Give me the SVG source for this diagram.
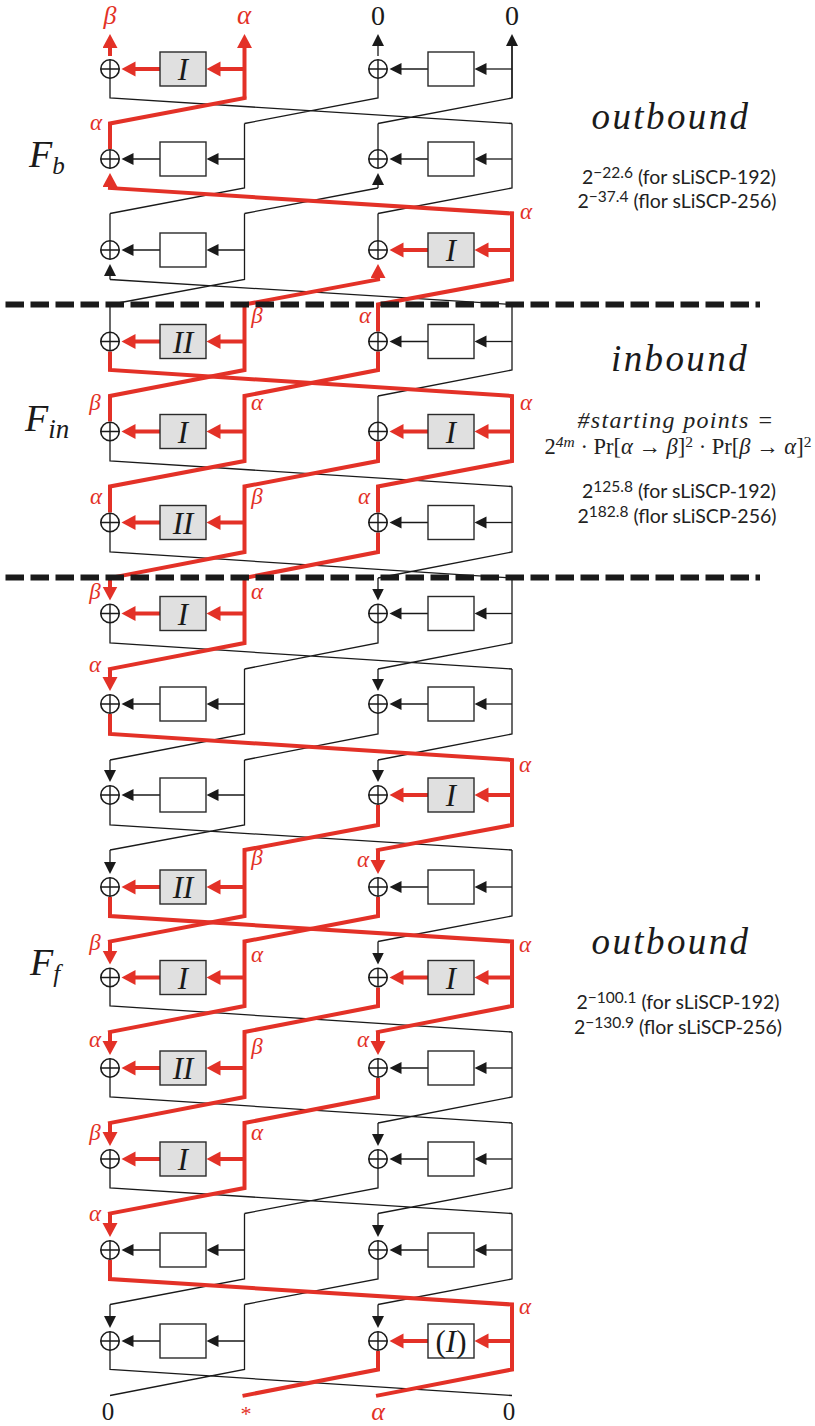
<svg xmlns="http://www.w3.org/2000/svg" width="815" height="1426" viewBox="0 0 815 1426">
<style>
.k{fill:none;stroke:#1a1a1a;stroke-width:1.3}
.r{fill:none;stroke:#e33127;stroke-width:4;stroke-linecap:square}
.rb{fill:none;stroke:#e33127;stroke-width:4}
.ka{marker-end:url(#ah)}
.ra{marker-end:url(#rh)}
.w{fill:#fff;stroke:#2a2a2a;stroke-width:1.4}
.g{fill:#e0e0e0;stroke:#2a2a2a;stroke-width:1.4}
.m{font-family:"Liberation Serif",serif;font-style:italic;fill:#1a1a1a}
.bl{font-size:31px;text-anchor:middle}
.rl{font-family:"Liberation Serif",serif;font-style:italic;fill:#e33127;font-size:23px;text-anchor:middle}
.n{font-family:"Liberation Serif",serif;fill:#1a1a1a;font-size:25px;text-anchor:middle}
.h{font-size:37px;text-anchor:middle;letter-spacing:2.4px}
.t{font-family:Lato,"Noto Sans",sans-serif;fill:#222;font-size:19.5px;text-anchor:middle}
.e{font-family:"Liberation Serif",serif;fill:#222;font-size:22.5px;text-anchor:middle}
</style>
<defs>
<marker id="ah" markerUnits="userSpaceOnUse" markerWidth="14" markerHeight="14" refX="6" refY="6" orient="auto"><path d="M0 0L12 6L0 12z" fill="#1a1a1a"/></marker>
<marker id="rh" markerUnits="userSpaceOnUse" markerWidth="16" markerHeight="16" refX="8" refY="7.5" orient="auto"><path d="M0 0L14 7.5L0 15z" fill="#e33127"/></marker>
<g id="x"><circle r="9.2" fill="#fff" stroke="#1a1a1a" stroke-width="1.6"/><path d="M-9.2 0H9.2M0-9.2V9.2" stroke="#1a1a1a" stroke-width="1.4" fill="none"/></g>
</defs>
<g id="connectors">
<g id="black-wires">
<path class="k" d="M110 69V98L512 123.5M378 69V98L244.5 123.5M512 40V98L378 123.5"/>
<path class="k ka" d="M378 56V40"/><path class="k ka" d="M512 98V40"/>
<path class="k" d="M378 123.5V159M244.5 123.5V188L110 213.5M512 123.5V188L378 213.5M378 188L244.5 213.5"/>
<path class="k ka" d="M378 188V179"/>
<path class="k" d="M110 213.5V250M378 213.5V250M244.5 213.5V279.5L110 304.5M110 279.5L512 304.5"/>
<path class="k ka" d="M110 279.5V270"/>
<path class="k" d="M110 304.5V341.5M512 304.5V370L378 396"/>
<path class="k" d="M378 396V431.5M110 431.5V461L512 486.5"/>
<path class="k" d="M512 486.5V552L378 578M110 522.5V552L512 578"/>
<path class="k" d="M512 578V643L378 669M378 613.5V643L244.5 669M110 613.5V643L512 669"/>
<path class="k ka" d="M378 578V594.5"/>
<path class="k" d="M244.5 669V734L110 760M512 669V734L378 760M378 704V734L244.5 760"/>
<path class="k ka" d="M378 669V685"/>
<path class="k" d="M244.5 760V825L110 850M110 795V825L512 850"/>
<path class="k ka" d="M110 760V776"/><path class="k ka" d="M378 760V776"/>
<path class="k" d="M512 850V916L378 941.5"/>
<path class="k ka" d="M110 850V868"/>
<path class="k" d="M110 977.5V1006L512 1032"/>
<path class="k ka" d="M378 941.5V958.5"/>
<path class="k" d="M512 1032V1097L378 1123M110 1068V1097L512 1123"/>
<path class="k" d="M512 1123V1188L378 1213.5M378 1159V1188L244.5 1213.5M110 1159V1188L512 1213.5"/>
<path class="k ka" d="M378 1123V1140"/>
<path class="k" d="M244.5 1213.5V1279L110 1304.5M512 1213.5V1279L378 1304.5M378 1250V1279L244.5 1304.5"/>
<path class="k ka" d="M378 1213.5V1231"/>
<path class="k" d="M244.5 1304.5V1369.5L110 1395.5M110 1341V1369.5L512 1395.5"/>
<path class="k ka" d="M110 1304.5V1322"/><path class="k ka" d="M378 1304.5V1322"/>
<path class="k ka" d="M428 69H395.5"/><path class="k ka" d="M512 69H480.5"/>
<path class="k ka" d="M160 159H127.5"/><path class="k ka" d="M244.5 159H212.5"/><path class="k ka" d="M428 159H395.5"/><path class="k ka" d="M512 159H480.5"/>
<path class="k ka" d="M160 250H127.5"/><path class="k ka" d="M244.5 250H212.5"/>
<path class="k ka" d="M428 341.5H395.5"/><path class="k ka" d="M512 341.5H480.5"/>
<path class="k ka" d="M428 522.5H395.5"/><path class="k ka" d="M512 522.5H480.5"/>
<path class="k ka" d="M428 613.5H395.5"/><path class="k ka" d="M512 613.5H480.5"/>
<path class="k ka" d="M160 704H127.5"/><path class="k ka" d="M244.5 704H212.5"/><path class="k ka" d="M428 704H395.5"/><path class="k ka" d="M512 704H480.5"/>
<path class="k ka" d="M160 795H127.5"/><path class="k ka" d="M244.5 795H212.5"/>
<path class="k ka" d="M428 887H395.5"/><path class="k ka" d="M512 887H480.5"/>
<path class="k ka" d="M428 1068H395.5"/><path class="k ka" d="M512 1068H480.5"/>
<path class="k ka" d="M428 1159H395.5"/><path class="k ka" d="M512 1159H480.5"/>
<path class="k ka" d="M160 1250H127.5"/><path class="k ka" d="M244.5 1250H212.5"/><path class="k ka" d="M428 1250H395.5"/><path class="k ka" d="M512 1250H480.5"/>
<path class="k ka" d="M160 1341H127.5"/><path class="k ka" d="M244.5 1341H212.5"/>
</g>
<g id="red-wires">
<path class="rb ra" d="M110 56V40"/><path class="rb ra" d="M244.5 98V40"/>
<path class="r" d="M244.5 98L110 123.5V147"/>
<path class="r" d="M512 213.5L110 188"/><path class="rb ra" d="M110 188V179"/>
<path class="r" d="M512 213.5V279.5L378 304.5V329.5"/>
<path class="r" d="M244.5 304.5L378 279.5"/><path class="rb ra" d="M378 279.5V270"/>
<path class="r" d="M244.5 304.5V370L110 396V419.5"/>
<path class="r" d="M110 353.5V370L512 396V461L378 486.5V510.5"/>
<path class="r" d="M378 353.5V370L244.5 396V461L110 486.5V510.5"/>
<path class="r" d="M378 443.5V461L244.5 486.5V552L110 578"/><path class="rb ra" d="M110 578V594.5"/>
<path class="r" d="M378 534.5V552L244.5 578V643L110 669"/><path class="rb ra" d="M110 669V685"/>
<path class="r" d="M110 716V734L512 760V825L378 850"/><path class="rb ra" d="M378 850V868"/>
<path class="r" d="M378 807V825L244.5 850V916L110 941.5"/><path class="rb ra" d="M110 941.5V958.5"/>
<path class="r" d="M110 899V916L512 941.5V1006L378 1032"/><path class="rb ra" d="M378 1032V1049"/>
<path class="r" d="M378 899V916L244.5 941.5V1006L110 1032"/><path class="rb ra" d="M110 1032V1049"/>
<path class="r" d="M378 989.5V1006L244.5 1032V1097L110 1123"/><path class="rb ra" d="M110 1123V1140"/>
<path class="r" d="M378 1080V1097L244.5 1123V1188L110 1213.5"/><path class="rb ra" d="M110 1213.5V1231"/>
<path class="r" d="M110 1262V1279L512 1304.5V1369.5L378 1395.5"/>
<path class="r" d="M378 1353V1369.5L244.5 1395.5"/>
<path class="rb ra" d="M160 69H127.5"/><path class="rb ra" d="M244.5 69H212.5"/>
<path class="rb ra" d="M428 250H395.5"/><path class="rb ra" d="M512 250H480.5"/>
<path class="rb ra" d="M160 341.5H127.5"/><path class="rb ra" d="M244.5 341.5H212.5"/>
<path class="rb ra" d="M160 431.5H127.5"/><path class="rb ra" d="M244.5 431.5H212.5"/><path class="rb ra" d="M428 431.5H395.5"/><path class="rb ra" d="M512 431.5H480.5"/>
<path class="rb ra" d="M160 522.5H127.5"/><path class="rb ra" d="M244.5 522.5H212.5"/>
<path class="rb ra" d="M160 613.5H127.5"/><path class="rb ra" d="M244.5 613.5H212.5"/>
<path class="rb ra" d="M428 795H395.5"/><path class="rb ra" d="M512 795H480.5"/>
<path class="rb ra" d="M160 887H127.5"/><path class="rb ra" d="M244.5 887H212.5"/>
<path class="rb ra" d="M160 977.5H127.5"/><path class="rb ra" d="M244.5 977.5H212.5"/><path class="rb ra" d="M428 977.5H395.5"/><path class="rb ra" d="M512 977.5H480.5"/>
<path class="rb ra" d="M160 1068H127.5"/><path class="rb ra" d="M244.5 1068H212.5"/>
<path class="rb ra" d="M160 1159H127.5"/><path class="rb ra" d="M244.5 1159H212.5"/>
<path class="rb ra" d="M428 1341H395.5"/><path class="rb ra" d="M512 1341H480.5"/>
</g>
<g id="phase-dividers"><path d="M5.5 304.5H760M5.5 577.5H760" fill="none" stroke="#1a1a1a" stroke-width="6" stroke-dasharray="18.5 6.5"/></g>
</g>
<g id="xors">
<g id="xor-1"><use href="#x" x="110" y="69"/><use href="#x" x="378" y="69"/></g>
<g id="xor-2"><use href="#x" x="110" y="159"/><use href="#x" x="378" y="159"/></g>
<g id="xor-3"><use href="#x" x="110" y="250"/><use href="#x" x="378" y="250"/></g>
<g id="xor-4"><use href="#x" x="110" y="341.5"/><use href="#x" x="378" y="341.5"/></g>
<g id="xor-5"><use href="#x" x="110" y="431.5"/><use href="#x" x="378" y="431.5"/></g>
<g id="xor-6"><use href="#x" x="110" y="522.5"/><use href="#x" x="378" y="522.5"/></g>
<g id="xor-7"><use href="#x" x="110" y="613.5"/><use href="#x" x="378" y="613.5"/></g>
<g id="xor-8"><use href="#x" x="110" y="704"/><use href="#x" x="378" y="704"/></g>
<g id="xor-9"><use href="#x" x="110" y="795"/><use href="#x" x="378" y="795"/></g>
<g id="xor-10"><use href="#x" x="110" y="887"/><use href="#x" x="378" y="887"/></g>
<g id="xor-11"><use href="#x" x="110" y="977.5"/><use href="#x" x="378" y="977.5"/></g>
<g id="xor-12"><use href="#x" x="110" y="1068"/><use href="#x" x="378" y="1068"/></g>
<g id="xor-13"><use href="#x" x="110" y="1159"/><use href="#x" x="378" y="1159"/></g>
<g id="xor-14"><use href="#x" x="110" y="1250"/><use href="#x" x="378" y="1250"/></g>
<g id="xor-15"><use href="#x" x="110" y="1341"/><use href="#x" x="378" y="1341"/></g>
</g>
<g id="boxes">
<g id="box-1-l"><rect class="g" x="160" y="52" width="46" height="34"/><text class="m bl" x="183" y="80">I</text></g>
<g id="box-1-r"><rect class="w" x="428" y="52" width="46" height="34"/></g>
<g id="box-2-l"><rect class="w" x="160" y="142" width="46" height="34"/></g>
<g id="box-2-r"><rect class="w" x="428" y="142" width="46" height="34"/></g>
<g id="box-3-l"><rect class="w" x="160" y="233" width="46" height="34"/></g>
<g id="box-3-r"><rect class="g" x="428" y="233" width="46" height="34"/><text class="m bl" x="451" y="261">I</text></g>
<g id="box-4-l"><rect class="g" x="160" y="324.5" width="46" height="34"/><text class="m bl" x="183" y="352.5">II</text></g>
<g id="box-4-r"><rect class="w" x="428" y="324.5" width="46" height="34"/></g>
<g id="box-5-l"><rect class="g" x="160" y="414.5" width="46" height="34"/><text class="m bl" x="183" y="442.5">I</text></g>
<g id="box-5-r"><rect class="g" x="428" y="414.5" width="46" height="34"/><text class="m bl" x="451" y="442.5">I</text></g>
<g id="box-6-l"><rect class="g" x="160" y="505.5" width="46" height="34"/><text class="m bl" x="183" y="533.5">II</text></g>
<g id="box-6-r"><rect class="w" x="428" y="505.5" width="46" height="34"/></g>
<g id="box-7-l"><rect class="g" x="160" y="596.5" width="46" height="34"/><text class="m bl" x="183" y="624.5">I</text></g>
<g id="box-7-r"><rect class="w" x="428" y="596.5" width="46" height="34"/></g>
<g id="box-8-l"><rect class="w" x="160" y="687" width="46" height="34"/></g>
<g id="box-8-r"><rect class="w" x="428" y="687" width="46" height="34"/></g>
<g id="box-9-l"><rect class="w" x="160" y="778" width="46" height="34"/></g>
<g id="box-9-r"><rect class="g" x="428" y="778" width="46" height="34"/><text class="m bl" x="451" y="806">I</text></g>
<g id="box-10-l"><rect class="g" x="160" y="870" width="46" height="34"/><text class="m bl" x="183" y="898">II</text></g>
<g id="box-10-r"><rect class="w" x="428" y="870" width="46" height="34"/></g>
<g id="box-11-l"><rect class="g" x="160" y="960.5" width="46" height="34"/><text class="m bl" x="183" y="988.5">I</text></g>
<g id="box-11-r"><rect class="g" x="428" y="960.5" width="46" height="34"/><text class="m bl" x="451" y="988.5">I</text></g>
<g id="box-12-l"><rect class="g" x="160" y="1051" width="46" height="34"/><text class="m bl" x="183" y="1079">II</text></g>
<g id="box-12-r"><rect class="w" x="428" y="1051" width="46" height="34"/></g>
<g id="box-13-l"><rect class="g" x="160" y="1142" width="46" height="34"/><text class="m bl" x="183" y="1170">I</text></g>
<g id="box-13-r"><rect class="w" x="428" y="1142" width="46" height="34"/></g>
<g id="box-14-l"><rect class="w" x="160" y="1233" width="46" height="34"/></g>
<g id="box-14-r"><rect class="w" x="428" y="1233" width="46" height="34"/></g>
<g id="box-15-l"><rect class="w" x="160" y="1324" width="46" height="34"/></g>
<g id="box-15-r"><rect class="w" x="428" y="1324" width="46" height="34"/><text class="m bl" x="451" y="1352"><tspan font-style="normal">(</tspan>I<tspan font-style="normal">)</tspan></text></g>
</g>
<g id="wire-labels">
<text class="rl" style="font-size:26px" x="110" y="24">β</text><text class="rl" style="font-size:27px" x="244" y="24">α</text>
<text class="n" style="font-size:28px" x="378" y="25">0</text><text class="n" style="font-size:28px" x="512" y="25">0</text>
<text class="rl" x="96" y="130">α</text><text class="rl" x="526" y="219">α</text>
<text class="rl" x="257" y="323">β</text><text class="rl" x="365" y="323">α</text>
<text class="rl" x="95" y="410">β</text><text class="rl" x="257" y="410">α</text><text class="rl" x="526" y="410">α</text>
<text class="rl" x="96" y="504">α</text><text class="rl" x="257" y="504">β</text><text class="rl" x="364" y="504">α</text>
<text class="rl" x="95" y="599">β</text><text class="rl" x="257" y="599">α</text>
<text class="rl" x="95" y="672">α</text><text class="rl" x="525" y="772">α</text>
<text class="rl" x="257" y="865">β</text><text class="rl" x="363" y="867">α</text>
<text class="rl" x="95" y="950">β</text><text class="rl" x="257" y="962">α</text><text class="rl" x="525" y="952">α</text>
<text class="rl" x="95" y="1047">α</text><text class="rl" x="257" y="1054">β</text><text class="rl" x="363" y="1047">α</text>
<text class="rl" x="95" y="1140">β</text><text class="rl" x="257" y="1140">α</text>
<text class="rl" x="95" y="1221">α</text><text class="rl" x="525" y="1314">α</text>
<text class="n" x="108" y="1420">0</text><text class="rl" style="font-size:22px" x="245" y="1421">*</text><text class="rl" style="font-size:26px" x="378" y="1420">α</text><text class="n" x="509" y="1420">0</text>
</g>
<g id="phase-labels">
<text class="m" font-size="38" x="29" y="167">F<tspan font-size="25" dy="7">b</tspan></text>
<text class="m" font-size="38" x="25" y="431">F<tspan font-size="27" dy="7">in</tspan></text>
<text class="m" font-size="38" x="30" y="975">F<tspan font-size="25" dy="7">f</tspan></text>
<text class="m h" x="671" y="129">outbound</text>
<text class="m h" x="680" y="371">inbound</text>
<text class="m h" x="671" y="954">outbound</text>
<text class="t" x="679" y="184">2<tspan font-size="15.5" dy="-6">−22.6</tspan><tspan dy="6"> (for sLiSCP-192)</tspan></text>
<text class="t" x="677" y="208">2<tspan font-size="15.5" dy="-6">−37.4</tspan><tspan dy="6"> (flor sLiSCP-256)</tspan></text>
<text class="e" x="676" y="428" font-size="23" style="font-style:italic;letter-spacing:1.3px;font-size:24px">#starting points =</text>
<text class="e" x="678" y="454">2<tspan font-size="15.5" dy="-7" font-style="italic">4m</tspan><tspan dy="7"> · Pr[</tspan><tspan font-style="italic">α → β</tspan>]<tspan font-size="15.5" dy="-7">2</tspan><tspan dy="7"> · Pr[</tspan><tspan font-style="italic">β → α</tspan>]<tspan font-size="15.5" dy="-7">2</tspan></text>
<text class="t" x="679" y="498">2<tspan font-size="15.5" dy="-6">125.8</tspan><tspan dy="6"> (for sLiSCP-192)</tspan></text>
<text class="t" x="677" y="523">2<tspan font-size="15.5" dy="-6">182.8</tspan><tspan dy="6"> (flor sLiSCP-256)</tspan></text>
<text class="t" x="678" y="1009">2<tspan font-size="15.5" dy="-6">−100.1</tspan><tspan dy="6"> (for sLiSCP-192)</tspan></text>
<text class="t" x="678" y="1034">2<tspan font-size="15.5" dy="-6">−130.9</tspan><tspan dy="6"> (flor sLiSCP-256)</tspan></text>
</g>
</svg>
